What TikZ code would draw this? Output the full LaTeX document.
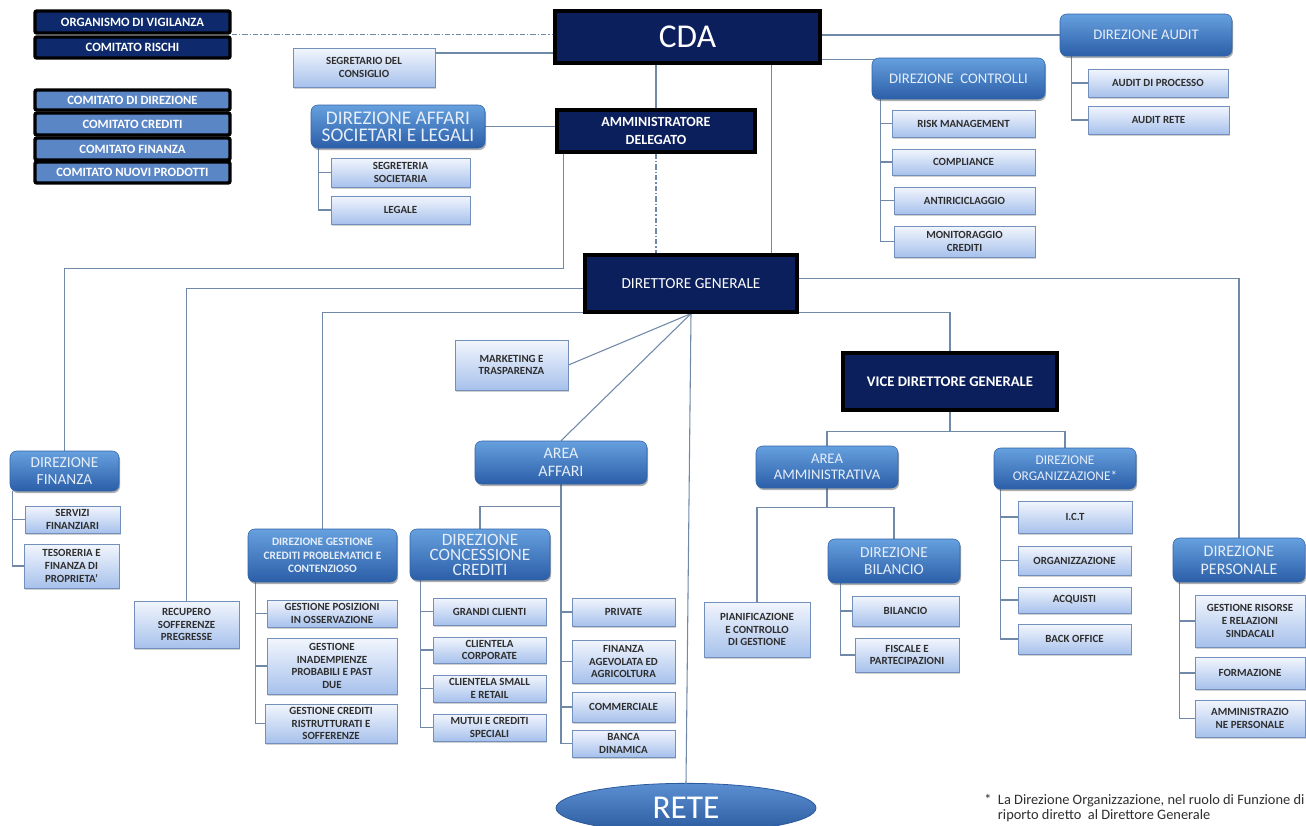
\documentclass[tikz,border=0pt]{standalone}
\usepackage{fontspec}
\setmainfont{Carlito}
\usetikzlibrary{shapes.geometric,shadows}
\pgfdeclarelayer{bg}
\pgfsetlayers{bg,main}
\definecolor{navy}{HTML}{0B1F5C}
\definecolor{htop}{HTML}{66A0DE}
\definecolor{hbot}{HTML}{2B5EA8}
\definecolor{hbord}{HTML}{2F63AA}
\definecolor{htext}{HTML}{E6EEF9}
\definecolor{ltop}{HTML}{F2F6FD}
\definecolor{lbot}{HTML}{A7C1EC}
\definecolor{lbord}{HTML}{7390BC}
\definecolor{ltext}{HTML}{2E2E2E}
\definecolor{linec}{HTML}{7089A8}
\definecolor{comblue}{HTML}{5A86C6}
\definecolor{comnavy}{HTML}{0E2A6C}
\definecolor{retetop}{HTML}{5C8FD2}
\definecolor{retebot}{HTML}{2A5A9E}

\newcommand\bx[7]{\node[#2, minimum width={(#5-#3)*0.75pt}, minimum height={(#6-#4)*0.75pt}] (#1) at ({(#3+#5)/2},{(#4+#6)/2}) {#7};}

\tikzset{
 conn/.style={draw=linec, line width=0.8pt},
 ddline/.style={draw=linec, line width=0.8pt, dash pattern=on 4pt off 1.5pt on 1pt off 1.5pt},
 navybox/.style={draw=black, line width=2.4pt, fill=navy, text=white, align=center, inner sep=1pt},
 hdr/.style={rounded corners=5pt, top color=htop, bottom color=hbot, draw=hbord, line width=0.4pt, text=htext, align=center, inner sep=1pt, drop shadow={shadow xshift=0.8pt, shadow yshift=-1.5pt, opacity=0.45, fill=black!70}},
 lite/.style={draw=lbord, line width=0.6pt, top color=ltop, bottom color=lbot, text=ltext, align=center, inner sep=1pt, font=\fontsize{8.2}{9.6}\selectfont\bfseries, drop shadow={shadow xshift=1pt, shadow yshift=-1.2pt, opacity=0.3, fill=black!60}},
 cmte/.style={draw=black, line width=2.6pt, rounded corners=1.5pt, text=white, inner sep=0pt, font=\fontsize{9.5}{10}\selectfont\bfseries},
}

\begin{document}
\begin{tikzpicture}[x=0.75pt,y=-0.75pt]
\useasboundingbox (0,0) rectangle (1306,825);
\clip (0,0) rectangle (1306,825);

% committees
\bx{ov}{cmte, fill=comnavy}{35}{11}{230}{33}{ORGANISMO DI VIGILANZA}
\bx{cr}{cmte, fill=comnavy}{35}{37}{230}{58}{COMITATO RISCHI}
\bx{cdir}{cmte, fill=comblue}{35}{90}{230}{110}{COMITATO DI DIREZIONE}
\bx{ccred}{cmte, fill=comblue}{35}{113}{230}{135}{COMITATO CREDITI}
\bx{cfin}{cmte, fill=comblue}{35}{138}{230}{160}{COMITATO FINANZA}
\bx{cnp}{cmte, fill=comblue}{35}{162}{230}{183}{COMITATO NUOVI PRODOTTI}

% navy boxes
\bx{cda}{navybox, font=\fontsize{25}{26}\selectfont}{555}{11}{820}{63}{CDA}
\bx{ad}{navybox, font=\fontsize{10.5}{13}\selectfont\bfseries}{557}{110}{755}{152}{AMMINISTRATORE\\DELEGATO}
\bx{dg}{navybox, font=\fontsize{11.5}{13}\selectfont}{585}{255}{797}{312}{DIRETTORE GENERALE}
\bx{vdg}{navybox, font=\fontsize{11}{13}\selectfont\bfseries}{843}{353}{1057}{410}{VICE DIRETTORE GENERALE}

% header boxes
\bx{dasl}{hdr, font=\fontsize{14.5}{12.5}\selectfont}{311}{105}{485}{148}{DIREZIONE AFFARI\\SOCIETARI E LEGALI}
\bx{ctrl}{hdr, font=\fontsize{11}{13}\selectfont}{872}{58}{1045}{99}{DIREZIONE\ \ CONTROLLI}
\bx{audit}{hdr, font=\fontsize{11}{13}\selectfont}{1060}{14}{1232}{56}{DIREZIONE AUDIT}
\bx{fin}{hdr, font=\fontsize{11.5}{13}\selectfont}{10}{451}{119}{491}{DIREZIONE\\FINANZA}
\bx{dgest}{hdr, font=\fontsize{8.5}{10}\selectfont\bfseries}{248}{529}{397}{582}{DIREZIONE GESTIONE\\CREDITI PROBLEMATICI E\\CONTENZIOSO}
\bx{aa}{hdr, font=\fontsize{12}{13.5}\selectfont}{475}{441}{647}{484}{AREA\\AFFARI}
\bx{dcc}{hdr, font=\fontsize{13}{11.3}\selectfont}{410}{529}{550}{580}{DIREZIONE\\CONCESSIONE\\CREDITI}
\bx{aam}{hdr, font=\fontsize{11}{12.5}\selectfont}{756}{446}{898}{488}{AREA\\AMMINISTRATIVA}
\bx{dorg}{hdr, font=\fontsize{10}{12}\selectfont}{994}{448}{1136}{489}{DIREZIONE\\ORGANIZZAZIONE*}
\bx{dbil}{hdr, font=\fontsize{11.5}{13}\selectfont}{828}{539}{960}{583}{DIREZIONE\\BILANCIO}
\bx{pers}{hdr, font=\fontsize{12}{13.5}\selectfont}{1173}{538}{1305}{582}{DIREZIONE\\PERSONALE}

% light boxes
\bx{segr}{lite}{293}{48}{435}{87}{SEGRETARIO DEL\\CONSIGLIO}
\bx{segs}{lite}{331}{158}{470}{187}{SEGRETERIA\\SOCIETARIA}
\bx{leg}{lite}{331}{196}{470}{224}{LEGALE}
\bx{rm}{lite}{892}{110}{1035}{137}{RISK MANAGEMENT}
\bx{comp}{lite}{892}{149}{1035}{175}{COMPLIANCE}
\bx{anti}{lite}{894}{187}{1035}{214}{ANTIRICICLAGGIO}
\bx{mon}{lite}{894}{226}{1035}{257}{MONITORAGGIO\\CREDITI}
\bx{adp}{lite}{1088}{69}{1228}{97}{AUDIT DI PROCESSO}
\bx{arete}{lite}{1088}{106}{1229}{134}{AUDIT RETE}
\bx{mkt}{lite}{455}{340}{568}{390}{MARKETING E\\TRASPARENZA}
\bx{serv}{lite}{25}{506}{120}{533}{SERVIZI\\FINANZIARI}
\bx{tes}{lite}{24}{544}{119}{588}{TESORERIA E\\FINANZA DI\\PROPRIETA’}
\bx{rec}{lite}{134}{601}{239}{648}{RECUPERO\\SOFFERENZE\\PREGRESSE}
\bx{gpos}{lite}{267}{600}{397}{627}{GESTIONE POSIZIONI\\IN OSSERVAZIONE}
\bx{gina}{lite}{267}{638}{397}{694}{GESTIONE\\INADEMPIENZE\\PROBABILI E PAST\\DUE}
\bx{gcr}{lite}{265}{704}{397}{743}{GESTIONE CREDITI\\RISTRUTTURATI E\\SOFFERENZE}
\bx{gcl}{lite}{433}{598}{546}{625}{GRANDI CLIENTI}
\bx{ccorp}{lite}{433}{637}{546}{663}{CLIENTELA\\CORPORATE}
\bx{csmall}{lite}{433}{675}{546}{702}{CLIENTELA SMALL\\E RETAIL}
\bx{mutui}{lite}{433}{714}{546}{741}{MUTUI E CREDITI\\SPECIALI}
\bx{priv}{lite}{572}{598}{675}{626}{PRIVATE}
\bx{fagev}{lite}{572}{640}{675}{683}{FINANZA\\AGEVOLATA ED\\AGRICOLTURA}
\bx{commer}{lite}{572}{692}{675}{722}{COMMERCIALE}
\bx{banca}{lite}{572}{730}{675}{757}{BANCA\\DINAMICA}
\bx{pian}{lite}{704}{602}{810}{657}{PIANIFICAZIONE\\E CONTROLLO\\DI GESTIONE}
\bx{bil}{lite}{852}{596}{959}{626}{BILANCIO}
\bx{fisc}{lite}{855}{638}{959}{672}{FISCALE E\\PARTECIPAZIONI}
\bx{ict}{lite}{1018}{501}{1132}{533}{I.C.T}
\bx{org}{lite}{1018}{546}{1131}{575}{ORGANIZZAZIONE}
\bx{acq}{lite}{1018}{587}{1131}{613}{ACQUISTI}
\bx{bo}{lite}{1018}{624}{1131}{654}{BACK OFFICE}
\bx{gris}{lite}{1195}{595}{1305}{647}{GESTIONE RISORSE\\E RELAZIONI\\SINDACALI}
\bx{form}{lite}{1195}{657}{1305}{689}{FORMAZIONE}
\bx{amp}{lite}{1195}{700}{1305}{737}{AMMINISTRAZIO\\NE PERSONALE}

% RETE
\node[ellipse, minimum width=195pt, minimum height=37pt, top color=retetop, bottom color=retebot, draw=retebot, line width=0.6pt, text=white, font=\fontsize{25}{27}\selectfont, inner sep=0pt] (rete) at (686,808) {RETE};

% footnote
\node[anchor=north west, align=left, font=\fontsize{10.8}{11.5}\selectfont, text=ltext, inner sep=0pt] (note) at (984,794) {*\ \ La Direzione Organizzazione, nel ruolo di Funzione di\\\hphantom{*\ \ }riporto diretto\ \ al Direttore Generale};

\begin{pgfonlayer}{bg}
\fill[white] (0,0) rectangle (1306,825);
\draw[ddline] (ov.south east) -- (ov.south east -| cda.west);
\draw[conn] ([yshift=10.9pt]segr.east) -- ([yshift=10.9pt]segr.east -| cda.west);
\draw[conn] (audit.west -| cda.east) -- (audit.west);
\draw[conn] ([yshift=-1.5pt]ctrl.north west -| cda.east) -- ([yshift=-1.5pt,xshift=5pt]ctrl.north west);
\draw[conn] ([xshift=9pt]audit.south west) |- (adp.west);
\draw[conn] ([xshift=9pt]audit.south west) |- (arete.west);
\foreach \c in {rm,comp,anti,mon} \draw[conn] ([xshift=6.75pt]ctrl.south west) |- (\c.west);
\foreach \c in {segs,leg} \draw[conn] ([xshift=6pt]dasl.south west) |- (\c.west);
\draw[conn] (cda.south -| ad.north) -- (ad.north);
\draw[conn] ([xshift=163.5pt]cda.south west) -- ([xshift=163.5pt]cda.south west |- dg.north);
\draw[conn] (dasl.east) -- (dasl.east -| ad.west);
\draw[ddline] (ad.south) -- (ad.south |- dg.north);
\draw[conn] ([xshift=6pt]ad.south west) -- ++(0,115) -| (fin.north);
\draw[conn] ([yshift=-4pt]dg.west) -| (rec.north);
\draw[conn] ([yshift=0.5pt]dg.south west) -| (dgest.north);
\draw[conn] ([yshift=4pt]dg.east) -| (pers.north);
\draw[conn] ([yshift=0.5pt]dg.south east) -| (vdg.north);
\draw[conn] (dg.south) -- (mkt.east);
\draw[conn] (dg.south) -- (aa.north);
\draw[conn] (dg.south) -- (rete.north);
\foreach \c in {priv,fagev,commer,banca} \draw[conn] (aa.south) |- (\c.west);
\draw[conn] (aa.south) -- ++(0,22) -| (dcc.north);
\foreach \c in {gcl,ccorp,csmall,mutui} \draw[conn] ([xshift=8.25pt]dcc.south west) |- (\c.west);
\foreach \c in {gpos,gina,gcr} \draw[conn] ([xshift=6pt]dgest.south west) |- (\c.west);
\foreach \c in {serv,tes} \draw[conn] ([xshift=2.25pt]fin.south west) |- (\c.west);
\draw[conn] (vdg.south) -- ++(0,20) -| (aam.north);
\draw[conn] (vdg.south) -- ++(0,20) -| (dorg.north);
\draw[conn] (aam.south) -- ++(0,19) -| (pian.north);
\draw[conn] (aam.south) -- ++(0,19) -| (dbil.north);
\foreach \c in {bil,fisc} \draw[conn] ([xshift=9.75pt]dbil.south west) |- (\c.west);
\foreach \c in {ict,org,acq,bo} \draw[conn] ([xshift=5.25pt]dorg.south west) |- (\c.west);
\foreach \c in {gris,form,amp} \draw[conn] ([xshift=5.25pt]pers.south west) |- (\c.west);
\end{pgfonlayer}
\end{tikzpicture}
\end{document}
